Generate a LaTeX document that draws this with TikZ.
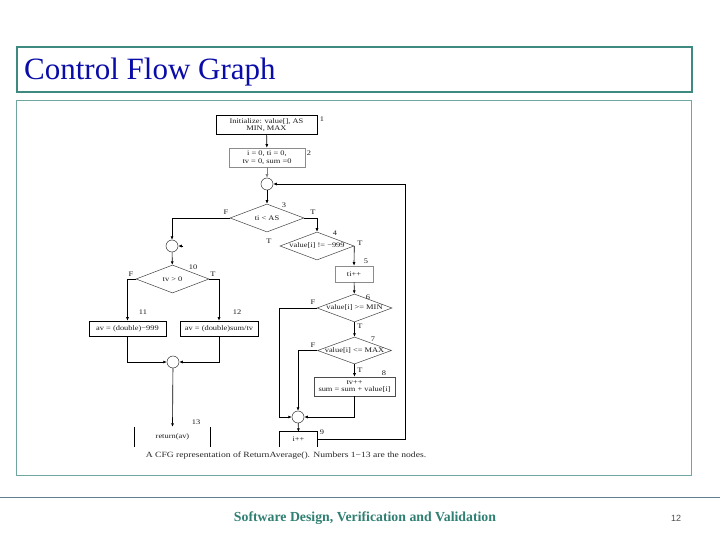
\documentclass[tikz,border=0pt]{standalone}
\usepackage{fontspec}
\setmainfont{Liberation Serif}
\newfontfamily\cfgfont[FakeStretch=1.2]{Liberation Serif}
\newfontfamily\pagefont{Liberation Sans}
\usetikzlibrary{shapes.geometric,arrows.meta}
\definecolor{frameteal}{HTML}{3F8A80}
\definecolor{titleblue}{HTML}{0A0CA8}
\definecolor{footteal}{HTML}{2F7F72}
\definecolor{rulegray}{HTML}{60808C}

\begin{document}
\begin{tikzpicture}[x=1pt,y=-1pt,
  every node/.style={inner sep=0pt},
  txt/.style={font=\cfgfont\fontsize{7}{7.5}\selectfont, text=black!90},
  stmt/.style={txt, draw, rectangle, align=center, line width=0.6pt},
  dec/.style={diamond, draw=black!75, line width=0.5pt},
  merge/.style={circle, draw=black!80, minimum size=12pt, line width=0.5pt},
  flow/.style={-{Latex[length=3.5pt,width=3pt]}, line width=0.65pt},
  loop/.style={line width=0.65pt},
]
  \useasboundingbox (0,0) rectangle (720,540);

  % slide frame
  \draw[frameteal, line width=1.3pt] (17,47) rectangle (692,92);
  \draw[frameteal!75, line width=1pt] (16,101) rectangle (691,475);
  \node[anchor=base west, font=\fontsize{31}{31}\selectfont, text=titleblue] (title) at (24,80) {Control Flow Graph};

  % statements
  \node[stmt, minimum width=101pt, minimum height=19pt] (n1) at (266.5,125) {Initialize: value[], AS\\MIN, MAX};
  \node[stmt, draw=black!45, minimum width=76pt, minimum height=19pt] (n2) at (267,157.5) {i = 0, ti = 0,\\tv = 0, sum =0};
  \node[stmt, draw=black!45, minimum width=38pt, minimum height=16pt] (n5) at (354,274) {ti++};
  \node[stmt, draw=black!70, minimum width=81pt, minimum height=19pt] (n8) at (354.5,386.5) {tv++\\sum = sum + value[i]};
  \node[txt, minimum width=37pt, minimum height=15pt] (n9) at (298.5,439.5) {i++};
  \node[stmt, minimum width=77pt, minimum height=15pt] (n11) at (127.5,328.5) {av = (double)−999};
  \node[stmt, minimum width=78pt, minimum height=15pt] (n12) at (219,328.5) {av = (double)sum/tv};
  \node[txt, minimum width=75pt, minimum height=20pt] (n13) at (172.5,437) {return(av)};

  % decisions
  \node[dec, minimum width=74pt, minimum height=28pt, label={[txt]center:ti < AS}] (d3) at (267,218) {};
  \node[dec, minimum width=74pt, minimum height=28pt, label={[txt]center:value[i] != −999}] (d4) at (317,246) {};
  \node[dec, minimum width=75pt, minimum height=28pt, label={[txt]center:value[i] >= MIN}] (d6) at (354.5,308) {};
  \node[dec, minimum width=74pt, minimum height=27pt, label={[txt]center:value[i] <= MAX}] (d7) at (354.5,350.5) {};
  \node[dec, minimum width=73pt, minimum height=28pt, label={[txt]center:tv > 0}] (d10) at (172.5,279) {};

  % junctions
  \node[merge] (j1) at (267,184) {};
  \node[merge] (j2) at (172,246) {};
  \node[merge] (j3) at (173,362) {};
  \node[merge] (j4) at (298,417) {};

  % node numbers
  \node[txt] (l1) at (322,119) {1};
  \node[txt] (l2) at (309,153) {2};
  \node[txt] (l3) at (284,205) {3};
  \node[txt] (l4) at (335,233) {4};
  \node[txt] (l5) at (366,261) {5};
  \node[txt] (l6) at (368,297) {6};
  \node[txt] (l7) at (373,339) {7};
  \node[txt] (l8) at (384,373) {8};
  \node[txt] (l9) at (322,432) {9};
  \node[txt] (l10) at (193,267) {10};
  \node[txt] (l11) at (143,312) {11};
  \node[txt] (l12) at (237,312) {12};
  \node[txt] (l13) at (196,422) {13};

  % branch labels
  \node[txt] (f3) at (226,212) {F};
  \node[txt] (t3) at (313,212) {T};
  \node[txt] (t3b) at (269,241) {T};
  \node[txt] (t4) at (360,243) {T};
  \node[txt] (f6) at (313,302) {F};
  \node[txt] (t6) at (360,326) {T};
  \node[txt] (f7) at (313,345) {F};
  \node[txt] (t7) at (360,370) {T};
  \node[txt] (f10) at (131,274) {F};
  \node[txt] (t10) at (213,274) {T};

  % edges
  \draw[flow] (n1) -- (n2);
  \draw[flow, draw=black!50] (n2) -- (j1);
  \draw[flow] (j1) -- (d3);
  \draw[flow] (d3.west) -| (j2.north);
  \draw[flow] ([xshift=5pt]j2.east) -- (j2.east);
  \draw[flow] (d3.east) -| (d4.north);
  \draw[flow] (d4.east) -- (n5.north);
  \draw[flow] (n5) -- (d6);
  \draw[flow] (d6) -- (d7);
  \draw[flow] (d7) -- (n8);
  \draw[flow] (d6.west) -- ++(-37,0) |- (j4.west);
  \draw[flow] (d7.west) -| (j4.north);
  \draw[flow] (n8.south) |- (j4.east);
  \draw[flow] (j4) -- (n9.north);
  \draw[loop] (n9.south west) |- (n9.north east) -- (n9.south east);
  \draw[flow] (n9.east) -- ++(88,0) |- (j1.east);
  \draw[flow] (j2) -- (d10);
  \draw[flow] (d10.west) -| (n11.north);
  \draw[flow] (d10.east) -| (n12.north);
  \draw[flow] (n11.south) |- (j3.west);
  \draw[flow] (n12.south) |- (j3.east);
  \draw[flow] (j3) -- (n13.north);
  \draw[loop] (n13.north west) -- (n13.south west);
  \draw[loop] (n13.north east) -- (n13.south east);

  \node[font=\cfgfont\fontsize{8}{8}\selectfont, text=black!85] (cap) at (286,456) {A CFG representation of ReturnAverage(). Numbers 1−13 are the nodes.};

  % footer
  \draw[rulegray, line width=0.8pt] (0,497) -- (720,497);
  \node[font=\bfseries\fontsize{13.8}{14}\selectfont, text=footteal] (foot) at (365,518) {Software Design, Verification and Validation};
  \node[font=\pagefont\fontsize{9}{9}\selectfont, text=black!70] (page) at (676,518) {12};
\end{tikzpicture}
\end{document}
